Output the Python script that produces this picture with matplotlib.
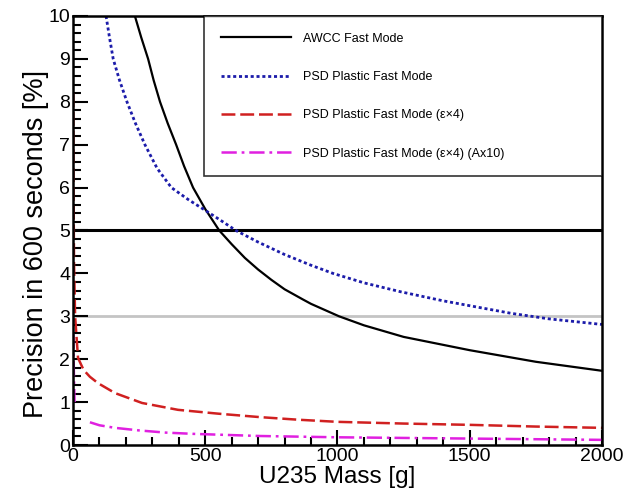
import numpy as np
import matplotlib
matplotlib.use("Agg")
from matplotlib import pyplot as plt
from matplotlib.ticker import MultipleLocator

plt.rcParams['font.family'] = ['Liberation Sans Narrow', 'Liberation Sans', 'DejaVu Sans']
plt.rcParams['lines.scale_dashes'] = False

# values
awcc_mass = [234, 258, 284, 305, 329, 358, 390, 420, 454, 500, 553, 600, 650, 700, 750,
             800, 870, 900, 1006, 1100, 1250, 1500, 1750, 2000]
awcc_prec = [10, 9.5, 9, 8.5, 8, 7.5, 7, 6.5, 6, 5.5, 5, 4.68, 4.36, 4.09, 3.85,
             3.63, 3.39, 3.29, 3.0, 2.79, 2.52, 2.21, 1.94, 1.73]

psd_mass = [125, 138, 152, 176, 204, 236, 272, 318, 372, 436, 500, 560, 616, 700, 800, 900,
            983, 1100, 1240, 1400, 1656, 1800, 2000]
psd_prec = [10, 9.5, 9, 8.5, 8, 7.5, 7, 6.45, 6.0, 5.72, 5.47, 5.23, 5.0, 4.73, 4.44, 4.19,
            4.0, 3.78, 3.57, 3.36, 3.07, 2.94, 2.81]

psd4_mass = [1, 2, 4, 8, 19, 40, 64, 95, 159, 261, 397, 550, 707, 850, 1000,
             1250, 1500, 1750, 2000]
psd4_prec = [8.2, 6.0, 4.2, 3.0, 2.03, 1.75, 1.59, 1.44, 1.21, 0.98, 0.82, 0.73, 0.65, 0.59, 0.54,
             0.50, 0.47, 0.43, 0.40]

psd4a_mass = [1, 2, 4, 6, np.nan, 64, 100, 159, 250, 348, 454, 707, 1000, 1500, 2000]
psd4a_prec = [2.6, 2.1, 1.5, 1.0, np.nan, 0.53, 0.46, 0.40, 0.34, 0.29, 0.26, 0.21, 0.18, 0.15, 0.12]

labels = ['AWCC Fast Mode', 'PSD Plastic Fast Mode',
          'PSD Plastic Fast Mode (\u03b5\u00d74)',
          'PSD Plastic Fast Mode (\u03b5\u00d74) (Ax10)']

fig = plt.figure(figsize=(6.26, 4.96), dpi=100)
ax = fig.add_axes([0.1166, 0.1028, 0.845, 0.865])

ax.axhline(5, color='black', lw=2.2, zorder=1)
ax.axhline(3, color='#c4c4c4', lw=2.0, zorder=1)

ax.plot(awcc_mass, awcc_prec, color='black', lw=1.6, label=labels[0])
ax.plot(psd_mass, psd_prec, color='#1c1caa', lw=2.0, dashes=(2.2, 2.0), label=labels[1])
ax.plot(psd4_mass, psd4_prec, color='#d02020', lw=1.8, dashes=(10, 3.5), label=labels[2])
ax.plot(psd4a_mass, psd4a_prec, color='#e020e0', lw=1.8, dashes=(11, 3.5, 2, 3.5), label=labels[3])

ax.set_xlim(0, 2000)
ax.set_ylim(0, 10)
ax.xaxis.set_major_locator(MultipleLocator(500))
ax.xaxis.set_minor_locator(MultipleLocator(100))
ax.yaxis.set_major_locator(MultipleLocator(1))
ax.yaxis.set_minor_locator(MultipleLocator(0.2))
ax.tick_params(which='both', direction='in', width=1.5, labelsize=14, pad=2)
ax.tick_params(which='major', length=11)
ax.tick_params(which='minor', length=6)
for s in ax.spines.values():
    s.set_linewidth(1.8)

ax.set_xlabel('U235 Mass [g]', fontsize=17.5, family=['Liberation Sans'], labelpad=1)
ax.set_ylabel('Precision in 600 seconds [%]', fontsize=19.5, family=['Liberation Sans'])
ax.yaxis.set_label_coords(-0.046, 0.468)

leg = ax.legend(loc='upper left', bbox_to_anchor=(0.2476, 0.627, 0.7524, 0.373),
                mode='expand', borderaxespad=0, fancybox=False,
                handlelength=5.6, handletextpad=1.0, labelspacing=2.1,
                borderpad=1.35, prop={'family': 'Liberation Sans', 'size': 9})
leg.get_frame().set_edgecolor('black')
leg.get_frame().set_linewidth(1.2)

fig.savefig('out.png', dpi=100)
